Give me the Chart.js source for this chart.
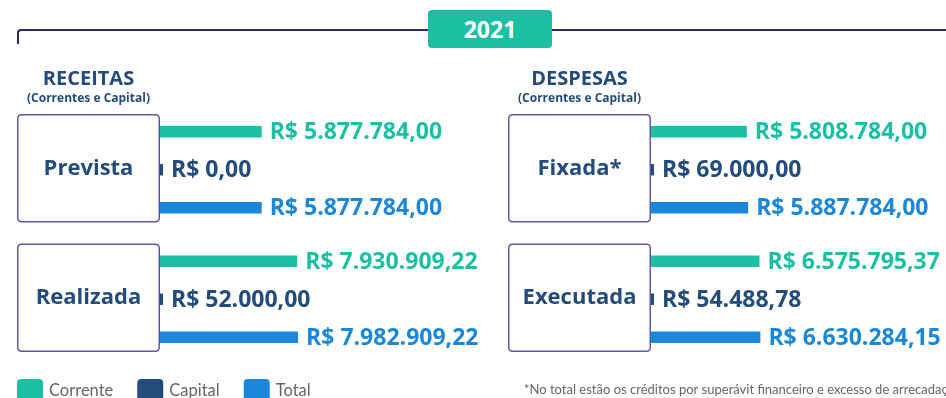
<!DOCTYPE html>
<html lang="pt-BR">
<head>
<meta charset="utf-8">
<title>Receitas e Despesas 2021</title>
<script src="https://cdn.jsdelivr.net/npm/chart.js@4.4.1/dist/chart.umd.min.js"></script>
<style>
  html, body { margin: 0; padding: 0; background: #ffffff; }
  body { width: 946px; height: 398px; position: relative; overflow: hidden; font-family: "Open Sans", sans-serif; }
  .frame-line {
    position: absolute; left: 17px; top: 29px; width: 960px; height: 15px;
    border-top: 2px solid #28286a; border-left: 2px solid #28286a;
    border-top-left-radius: 4px; box-sizing: border-box;
  }
  .year {
    position: absolute; left: 428px; top: 10px; width: 124px; height: 38px;
    background: #1dbfa3; border-radius: 4px; color: #ffffff;
    font: 700 23px "Open Sans", sans-serif; line-height: 38px; text-align: center;
  }
  .panel { position: absolute; top: 0; }
  #receitasWrap { left: 0; }
  #despesasWrap { left: 490px; }
  canvas { display: block; }
</style>
</head>
<body>
<div class="frame-line"></div>
<div class="year">2021</div>
<div class="panel" id="receitasWrap"><canvas id="receitas" width="490" height="398"></canvas></div>
<div class="panel" id="despesasWrap"><canvas id="despesas" width="456" height="398"></canvas></div>

<script>
// ---- Valores do exercício 2021 ----
const receitasCategorias = ['Prevista', 'Realizada'];
const despesasCategorias = ['Fixada*', 'Executada'];
const seriesNomes = ['Corrente', 'Capital', 'Total'];

const receitasCorrente = [5877784.00, 7930909.22];
const receitasCapital  = [0.00, 52000.00];
const receitasTotal    = [5877784.00, 7982909.22];

const despesasCorrente = [5808784.00, 6575795.37];
const despesasCapital  = [69000.00, 54488.78];
const despesasTotal    = [5887784.00, 6630284.15];

const notaRodape = '*No total estão os créditos por superávit financeiro e excesso de arrecadação';

// ---- Estilo ----
const CORES = ['#1dbfa3', '#234b7b', '#1b87db'];
const NAVY = '#234b7b';
const BORDA_CAIXA = '#5b5aa5';
const FONTE = '"Open Sans", sans-serif';
const FONTE_LEVE = 'Lato, "Open Sans", sans-serif';

function brl(v) {
  const [inteiro, dec] = v.toFixed(2).split('.');
  return 'R$ ' + inteiro.replace(/\B(?=(\d{3})+(?!\d))/g, '.') + ',' + dec;
}

function roundRectPath(ctx, x, y, w, h, r) {
  ctx.beginPath();
  ctx.moveTo(x + r, y);
  ctx.lineTo(x + w - r, y);
  ctx.quadraticCurveTo(x + w, y, x + w, y + r);
  ctx.lineTo(x + w, y + h - r);
  ctx.quadraticCurveTo(x + w, y + h, x + w - r, y + h);
  ctx.lineTo(x + r, y + h);
  ctx.quadraticCurveTo(x, y + h, x, y + h - r);
  ctx.lineTo(x, y + r);
  ctx.quadraticCurveTo(x, y, x + r, y);
  ctx.closePath();
}

// Caixas das categorias, títulos, rótulos de valor, legenda e nota
const painelDecor = {
  id: 'painelDecor',
  afterDraw(chart, args, opts) {
    const ctx = chart.ctx;
    const area = chart.chartArea;
    const yScale = chart.scales.y;
    const boxW = 143, half = 53.5;
    const left = area.left - boxW;
    const cx = left + boxW / 2;
    ctx.save();

    // caixas com o nome da categoria
    let primeiraTopo = null;
    chart.data.labels.forEach((lab, i) => {
      const cy = yScale.getPixelForTick(i) - 1.5;
      if (primeiraTopo === null) primeiraTopo = cy - half;
      roundRectPath(ctx, left + 0.75, cy - half, boxW - 1.5, half * 2, 4);
      ctx.lineWidth = 1.5;
      ctx.strokeStyle = BORDA_CAIXA;
      ctx.stroke();
      ctx.fillStyle = NAVY;
      ctx.font = '700 22px ' + FONTE;
      ctx.textAlign = 'center';
      ctx.textBaseline = 'middle';
      ctx.fillText(lab, cx, cy);
    });

    // título do painel
    ctx.fillStyle = NAVY;
    ctx.textAlign = 'center';
    ctx.textBaseline = 'middle';
    ctx.font = '700 20px ' + FONTE;
    ctx.fillText(opts.titulo, cx, primeiraTopo - 35);
    ctx.font = '700 12px ' + FONTE;
    ctx.fillText(opts.subtitulo, cx, primeiraTopo - 16);

    // rótulos de valor ao fim de cada barra
    ctx.font = '700 23px ' + FONTE;
    ctx.textAlign = 'left';
    chart.data.datasets.forEach((ds, di) => {
      const meta = chart.getDatasetMeta(di);
      meta.data.forEach((bar, i) => {
        ctx.fillStyle = ds.backgroundColor;
        ctx.fillText(brl(ds.data[i]), bar.x + 8, bar.y + 1);
      });
    });

    // legenda
    if (opts.legenda) {
      let x = left;
      ctx.font = '400 16.5px ' + FONTE_LEVE;
      ctx.textBaseline = 'alphabetic';
      chart.data.datasets.forEach((ds) => {
        roundRectPath(ctx, x, 379, 26, 26, 4);
        ctx.fillStyle = ds.backgroundColor;
        ctx.fill();
        ctx.fillStyle = '#666666';
        ctx.fillText(ds.label, x + 32, 396);
        x += 32 + ctx.measureText(ds.label).width + 24;
      });
    }

    // nota de rodapé
    if (opts.nota) {
      ctx.font = '400 13px ' + FONTE_LEVE;
      ctx.fillStyle = '#666666';
      ctx.textBaseline = 'alphabetic';
      ctx.textAlign = 'left';
      ctx.fillText(opts.nota, left + 16, 394);
    }
    ctx.restore();
  }
};

function criarPainel(id, categorias, corrente, capital, total, padRight, extras) {
  const series = [corrente, capital, total];
  return new Chart(document.getElementById(id), {
    type: 'bar',
    data: {
      labels: categorias,
      datasets: series.map((dados, k) => ({
        label: seriesNomes[k],
        data: dados,
        backgroundColor: CORES[k],
        borderWidth: 0,
        categoryPercentage: 0.88,
        barPercentage: 0.3,
        minBarLength: 3
      }))
    },
    options: {
      indexAxis: 'y',
      responsive: false,
      animation: false,
      layout: { padding: { left: extras.padLeft, right: padRight, top: 105, bottom: 34 } },
      scales: {
        x: { display: false, min: 0, max: 10000000 },
        y: { display: false }
      },
      plugins: {
        legend: { display: false },
        tooltip: { enabled: false },
        painelDecor: extras
      }
    },
    plugins: [painelDecor]
  });
}

criarPainel('receitas', receitasCategorias, receitasCorrente, receitasCapital, receitasTotal, 157,
  { padLeft: 160, titulo: 'RECEITAS', subtitulo: '(Correntes e Capital)', legenda: true });
criarPainel('despesas', despesasCategorias, despesasCorrente, despesasCapital, despesasTotal, 130,
  { padLeft: 161, titulo: 'DESPESAS', subtitulo: '(Correntes e Capital)', nota: notaRodape });
</script>
</body>
</html>
